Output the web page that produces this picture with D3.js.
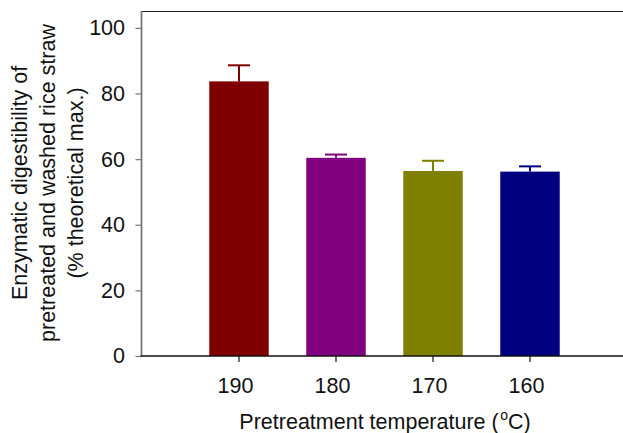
<!DOCTYPE html>
<html><head><meta charset="utf-8">
<script src="https://cdn.jsdelivr.net/npm/d3@7"></script>
<style>body{margin:0;background:#fff}svg{display:block}text{font-family:"Liberation Sans",Arial,sans-serif}</style>
</head><body>
<svg id="c" width="623" height="433"></svg>
<script>
const categories = ["190", "180", "170", "160"];
const values = [83.7, 60.4, 56.4, 56.2];
const errors = [4.9, 1.0, 3.1, 1.6];
const colors = ["#800000", "#800080", "#808000", "#000080"];
const yTicks = [0, 20, 40, 60, 80, 100];
const yLabelLines = ["Enzymatic digestibility of", "pretreated and washed rice straw", "(% theoretical max.)"];

const svg = d3.select("#c");
const mLeft = 141.5, mRight = 626, mBottom = 356, mTop = 11.5;
const fs = 21.5;

const x = d3.scaleBand().domain(categories).range([190.5, 578.5]).paddingInner(0.387).paddingOuter(0.1935);
const y = d3.scaleLinear().domain([0, 105]).range([mBottom, mTop]);

// top frame line
svg.append("line").attr("x1", mLeft).attr("x2", mRight).attr("y1", mTop).attr("y2", mTop)
  .attr("stroke", "#222").attr("stroke-width", 1.2);

// bars
svg.selectAll("rect.bar").data(categories).enter().append("rect")
  .attr("x", d => x(d)).attr("width", x.bandwidth())
  .attr("y", (d, i) => y(values[i])).attr("height", (d, i) => y(0) - y(values[i]))
  .attr("fill", (d, i) => colors[i]);

// error bars (upper)
const eg = svg.selectAll("g.err").data(categories).enter().append("g");
eg.append("line")
  .attr("x1", d => x(d) + x.bandwidth() / 2).attr("x2", d => x(d) + x.bandwidth() / 2)
  .attr("y1", (d, i) => y(values[i])).attr("y2", (d, i) => y(values[i] + errors[i]))
  .attr("stroke", (d, i) => colors[i]).attr("stroke-width", 2);
eg.append("line")
  .attr("x1", d => x(d) + x.bandwidth() / 2 - 11).attr("x2", d => x(d) + x.bandwidth() / 2 + 11)
  .attr("y1", (d, i) => y(values[i] + errors[i])).attr("y2", (d, i) => y(values[i] + errors[i]))
  .attr("stroke", (d, i) => colors[i]).attr("stroke-width", 2);

// y axis
const ya = svg.append("g").attr("transform", `translate(${mLeft},0)`)
  .call(d3.axisLeft(y).tickValues(yTicks).tickSize(6).tickPadding(10.5));
ya.select(".domain").remove();
ya.selectAll(".tick line").attr("stroke", "#777").attr("stroke-width", 1.2);
ya.selectAll(".tick text").attr("font-size", fs).attr("fill", "#111")
  .attr("font-family", "Liberation Sans, Arial, sans-serif");
svg.append("line").attr("x1", mLeft).attr("x2", mLeft).attr("y1", mTop - 0.5).attr("y2", mBottom)
  .attr("stroke", "#777").attr("stroke-width", 1.8);

// x axis
const xa = svg.append("g").attr("transform", `translate(0,${mBottom})`)
  .call(d3.axisBottom(x).tickSize(6).tickPadding(16));
xa.select(".domain").remove();
xa.selectAll(".tick line").attr("stroke", "#111").attr("stroke-width", 1.2);
xa.selectAll(".tick text").attr("font-size", fs).attr("fill", "#111").attr("x", -3.5)
  .attr("font-family", "Liberation Sans, Arial, sans-serif");
svg.append("line").attr("x1", mLeft - 1).attr("x2", mRight).attr("y1", mBottom).attr("y2", mBottom)
  .attr("stroke", "#111").attr("stroke-width", 1.5);

// x title
const xt = svg.append("text").attr("x", 385).attr("y", 428.5).attr("text-anchor", "middle")
  .attr("font-size", fs).attr("fill", "#111");
xt.append("tspan").text("Pretreatment temperature (");
xt.append("tspan").attr("font-size", 14).attr("dy", -8.5).attr("dx", 1.5).text("o");
xt.append("tspan").attr("dy", 8.5).text("C)");

// y title
const yt = svg.append("g").attr("transform", "translate(0,183) rotate(-90)");
yt.selectAll("text").data(yLabelLines).enter().append("text")
  .attr("x", 0).attr("y", (d, i) => 27 + i * 28).attr("text-anchor", "middle")
  .attr("font-size", fs).attr("fill", "#111").text(d => d);
</script>
</body></html>
